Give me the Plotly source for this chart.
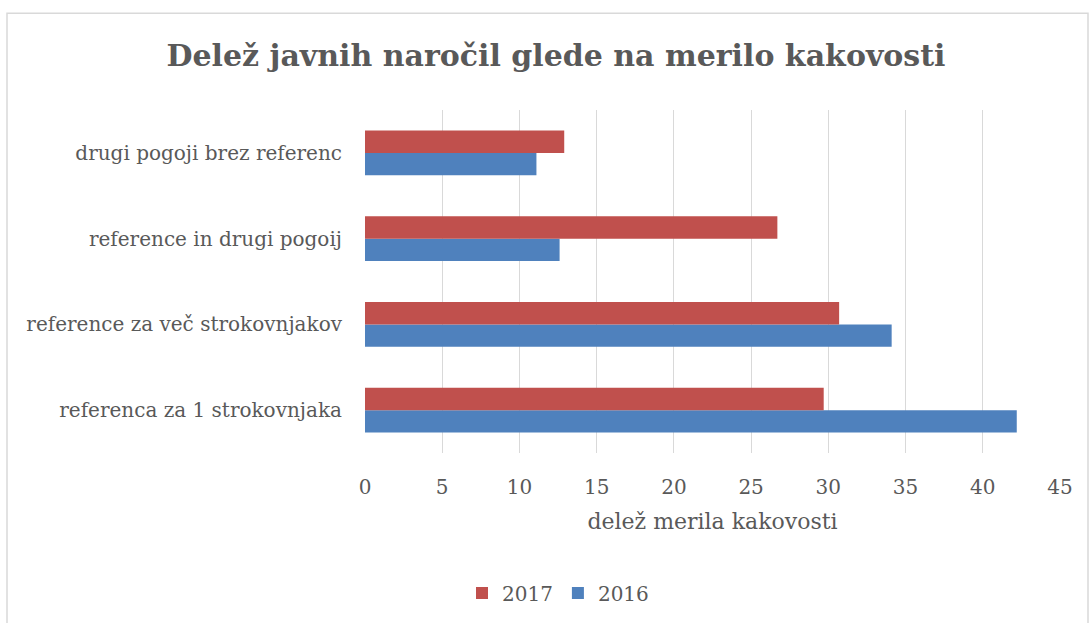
import plotly.graph_objects as go

categories = ["referenca za 1 strokovnjaka", "reference za več strokovnjakov",
              "reference in drugi pogoij", "drugi pogoji brez referenc"]
values_2016 = [42.2, 34.1, 12.6, 11.1]
values_2017 = [29.7, 30.7, 26.7, 12.9]
x_ticks = [0, 5, 10, 15, 20, 25, 30, 35, 40, 45]

FONT = "DejaVu Serif"
GREY = "#595959"

fig = go.Figure()
fig.add_trace(go.Bar(y=categories, x=values_2016, orientation="h", name="2016",
                     marker=dict(color="#4F81BD", line=dict(width=0))))
fig.add_trace(go.Bar(y=categories, x=values_2017, orientation="h", name="2017",
                     marker=dict(color="#C0504D", line=dict(width=0))))

W, H = 1092, 623
L, R, T, B = 365, 1092 - 1060, 110, 623 - 454
pw, ph = W - L - R, H - T - B

def px(x):
    return (x - L) / pw

def py(y):
    return (H - B - y) / ph

fig.update_layout(
    width=W, height=H,
    margin=dict(l=L, r=R, t=T, b=B),
    paper_bgcolor="white", plot_bgcolor="white",
    barmode="group", bargap=0.48, bargroupgap=0,
    title=dict(text="<b>Delež javnih naročil glede na merilo kakovosti</b>",
               x=556 / W, xanchor="center", y=1 - 55 / H,
               yanchor="middle", yref="container",
               font=dict(family=FONT, size=30, color=GREY)),
    font=dict(family=FONT, color=GREY, size=20),
    xaxis=dict(range=[0, 45], tickvals=x_ticks, showgrid=True, gridcolor="#D9D9D9",
               gridwidth=1, zeroline=False, showline=False, ticks="",
               ticklabelstandoff=20,
               tickfont=dict(family=FONT, size=20, color=GREY),
               title=dict(text="delež merila kakovosti", standoff=15,
                          font=dict(family=FONT, size=22, color=GREY))),
    yaxis=dict(showgrid=False, zeroline=False, showline=False, ticks="",
               ticklabelstandoff=22,
               tickfont=dict(family=FONT, size=20, color=GREY)),
    legend=dict(orientation="h", x=px(558), xanchor="center",
                y=py(593), yanchor="middle", traceorder="reversed",
                font=dict(family=FONT, size=20, color=GREY)),
    showlegend=True,
    shapes=[dict(type="rect", xref="paper", yref="paper",
                 x0=px(7), x1=px(1088), y0=py(640), y1=py(13),
                 line=dict(color="#D9D9D9", width=1.5), fillcolor="rgba(0,0,0,0)",
                 layer="below")],
)

fig.write_html("out.html",
               config={"displayModeBar": False},
               post_script="document.body.style.margin='0';"
                           "document.body.style.overflow='hidden';")
